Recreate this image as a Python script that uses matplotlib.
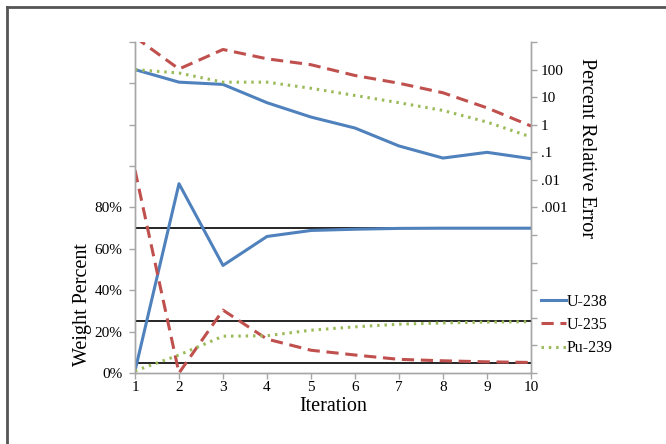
import matplotlib
matplotlib.use("Agg")
import math
import matplotlib.pyplot as plt
from matplotlib.lines import Line2D
from matplotlib.ticker import FixedLocator, FuncFormatter, NullLocator

plt.rcParams['font.family'] = ['Liberation Serif', 'DejaVu Serif']

iterations = [1, 2, 3, 4, 5, 6, 7, 8, 9, 10]
# Weight percent (fraction)
u238_wt = [0.01, 0.915, 0.52, 0.66, 0.689, 0.695, 0.699, 0.70, 0.70, 0.70]
u235_wt = [0.98, 0.0, 0.304, 0.164, 0.11, 0.087, 0.066, 0.059, 0.054, 0.051]
pu239_wt = [0.01, 0.087, 0.178, 0.18, 0.207, 0.223, 0.236, 0.242, 0.246, 0.248]
# Percent relative error
u238_err = [100, 35, 29, 6.3, 1.9, 0.76, 0.17, 0.062, 0.10, 0.059]
u235_err = [1500, 105, 535, 246, 150, 61, 32, 14.4, 4.1, 0.9]
pu239_err = [100, 75, 35, 35, 21, 11.5, 6.3, 3.3, 1.25, 0.36]
targets = [0.70, 0.25, 0.05]

W, H = 666, 444
fig = plt.figure(figsize=(W / 100, H / 100), dpi=100)
ax = fig.add_axes([135 / W, 1 - 373 / H, 396 / W, 331 / H])
ax2 = ax.twinx()

blue, red, green = '#4F81BD', '#C0504D', '#9BBB59'
spine_c = '#A6A6A6'

for t in targets:
    ax.axhline(t, color='black', lw=1.2, zorder=3)

l1, = ax.plot(iterations, u238_wt, color=blue, lw=2.2, zorder=4, label='U-238')
l2, = ax.plot(iterations, u235_wt, color=red, lw=2.2, ls=(0, (4, 2.2)), zorder=4, label='U-235')
l3, = ax.plot(iterations, pu239_wt, color=green, lw=2.2, ls=(0, (0.8, 1.6)), zorder=4, label='Pu-239')

ax2.plot(iterations, u238_err, color=blue, lw=2.2)
ax2.plot(iterations, u235_err, color=red, lw=2.2, ls=(0, (4, 2.2)))
ax2.plot(iterations, pu239_err, color=green, lw=2.2, ls=(0, (0.8, 1.6)))

ax.set_xlim(1, 10)
ax.set_ylim(0, 1.6)
ax.xaxis.set_major_locator(FixedLocator(iterations))
ax.yaxis.set_major_locator(FixedLocator([i * 0.2 for i in range(9)]))
ax.yaxis.set_major_formatter(FuncFormatter(lambda v, p: f"{v*100:.0f}%" if v <= 0.81 else ""))

ax2.set_yscale('log')
ax2.set_ylim(1e-9, 1e3)
err_ticks = [10.0 ** k for k in range(-9, 4)]
ax2.yaxis.set_major_locator(FixedLocator(err_ticks))
ax2.yaxis.set_minor_locator(NullLocator())
lab = {-3: '.001', -2: '.01', -1: '.1', 0: '1', 1: '10', 2: '100'}
ax2.yaxis.set_major_formatter(FuncFormatter(lambda v, p: lab.get(int(round(math.log10(v))), '')))

for a in (ax, ax2):
    a.spines['top'].set_visible(False)
    for s in ('left', 'right', 'bottom'):
        a.spines[s].set_color(spine_c)
        a.spines[s].set_linewidth(1.0)
    a.tick_params(axis='both', colors=spine_c, labelcolor='black', labelsize=11,
                  length=4, width=1, direction='out')
ax.tick_params(axis='x', pad=2)
ax.tick_params(axis='y', pad=5)
ax2.tick_params(axis='y', pad=3)
ax.patch.set_visible(False)

fig.text(82 / W, 1 - 305 / H, 'Weight Percent', rotation=90, ha='center', va='center', fontsize=14.5)
fig.text(587 / W, 1 - 148 / H, 'Percent Relative Error', rotation=-90, ha='center', va='center', fontsize=14.5)
fig.text(333 / W, 1 - 406 / H, 'Iteration', ha='center', va='center', fontsize=14.5)

fig.legend(handles=[l1, l2, l3], loc='center left', bbox_to_anchor=(530 / W, 1 - 325 / H),
           frameon=False, fontsize=11.5, handlelength=1.55, handletextpad=0.05,
           labelspacing=0.45, borderpad=0.2)

fig.add_artist(Line2D([7 / W, 7 / W], [0, 1 - 7 / H], transform=fig.transFigure, color='#555555', lw=2))
fig.add_artist(Line2D([7 / W, 1], [1 - 7 / H, 1 - 7 / H], transform=fig.transFigure, color='#555555', lw=2))

fig.savefig('out.png', dpi=100)
